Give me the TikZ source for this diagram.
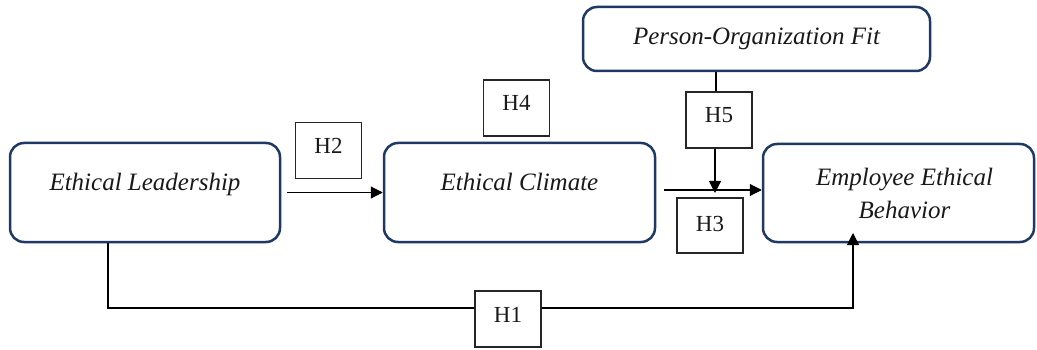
\documentclass[tikz,border=0pt]{standalone}
\usepackage{fontspec}
\setmainfont{Liberation Serif}
\usetikzlibrary{arrows.meta}
\definecolor{navy}{RGB}{31,56,100}
\tikzset{
  varbox/.style={draw=navy, line width=2.5pt, rounded corners=14pt, inner sep=0pt,
    font=\fontsize{25}{33}\selectfont\itshape, text=black!90},
  hbox/.style={draw=black!85, line width=1.2pt, inner sep=0pt, minimum width=66pt,
    minimum height=56pt, text height=31pt, text depth=25pt,
    font=\fontsize{23}{28}\selectfont, text=black!90},
  conn/.style={draw=black, line width=1.1pt},
  arr/.style={conn, -{Triangle[length=12pt,width=12pt]}}
}
\begin{document}
\begin{tikzpicture}[x=1pt,y=-1pt]
\path[use as bounding box] (0,0) rectangle (1037,350);
% variable boxes
\node[varbox, minimum width=270pt, text height=48pt, text depth=51pt] (EL) at (145,192.5) {Ethical Leadership};
\node[varbox, minimum width=271pt, text height=48pt, text depth=51pt] (EC) at (519.5,192.5) {Ethical Climate};
\node[varbox, minimum width=347pt, text height=38pt, text depth=26pt] (POF) at (756.5,39) {Person-Organization Fit};
\node[varbox, minimum width=271pt, minimum height=98pt, align=center] (EEB) at (898.5,193) {\hspace*{12pt}Employee Ethical\\\hspace*{12pt}Behavior};
% hypothesis boxes
\node[hbox] (H1) at (508,319) {H1};
\node[hbox] (H2) at (328.5,150.5) {H2};
\node[hbox, text height=33pt, text depth=22pt, minimum height=55pt] (H3) at (710,225.5) {H3};
\node[hbox] (H4) at (516.5,108) {H4};
\node[hbox] (H5) at (719,120) {H5};
% coordinates
\coordinate (m) at (715,193);
\coordinate (a) at (108,308);
\coordinate (b) at (853,308);
\coordinate (t) at (853,233);
% connectors
\draw[arr, shorten <=6pt] (EL.east) -- (EC.west);
\draw[arr, shorten <=8pt] (EC.east |- 0,190) -- (EEB.west |- 0,190);
\draw[conn] (POF.south -| 716,0) -- (H5.north -| 716,0);
\draw[arr] (H5.south -| m) -- (m);
\draw[conn] (EL.south -| a) -- (a) -- (a -| H1.west);
\draw[arr] (b -| H1.east) -- (b) -- (t);
\end{tikzpicture}
\end{document}
